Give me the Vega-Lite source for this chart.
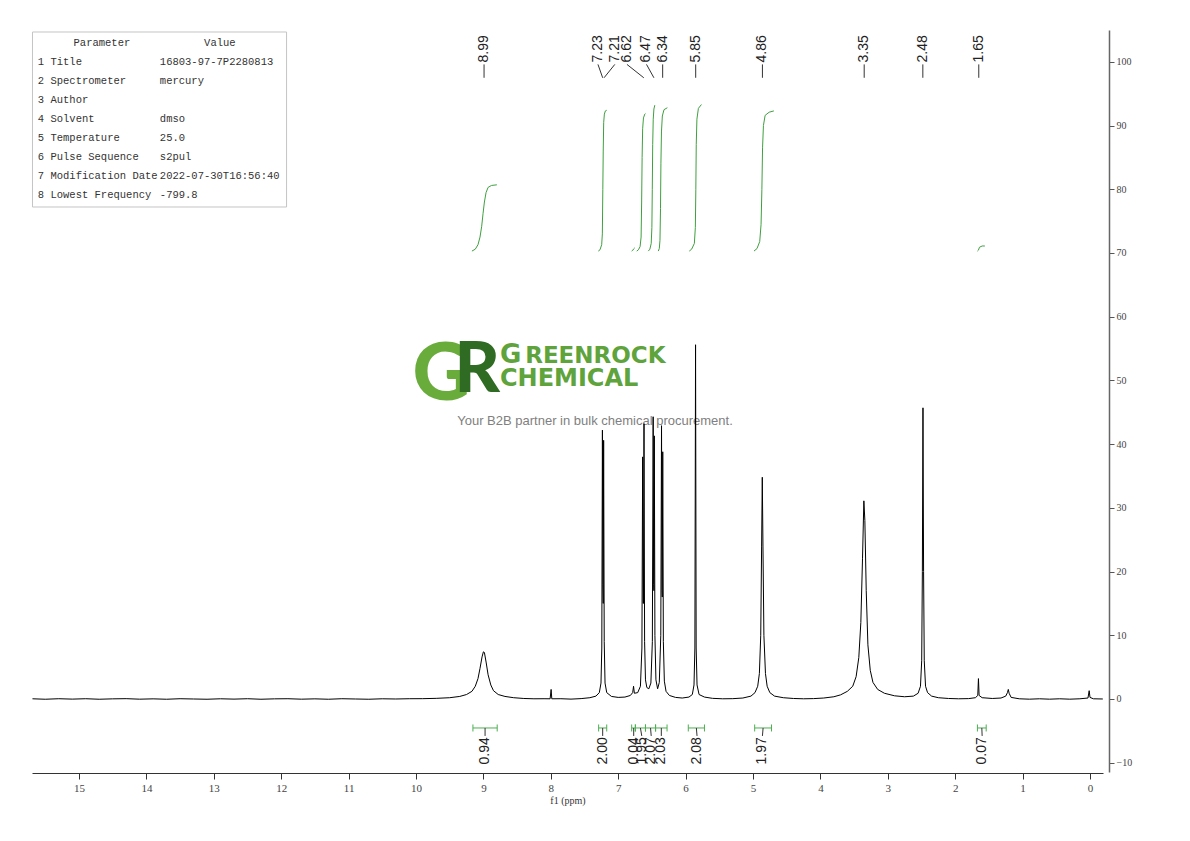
{
  "$schema": "https://vega.github.io/schema/vega-lite/v6.json",
  "width": 1071,
  "height": 742,
  "autosize": {"type": "none"},
  "padding": {"left": 32, "top": 30, "right": 87, "bottom": 69},
  "background": "white",
  "config": {"view": {"stroke": null}, "axis": {"grid": false}},
  "datasets": {
    "spectrum": [
      {"ppm": 15.69, "int": 0.03}, {"ppm": 15.5, "int": -0.04}, {"ppm": 15.3, "int": 0.04}, {"ppm": 15.1, "int": -0.02},
      {"ppm": 14.9, "int": 0.04}, {"ppm": 14.7, "int": -0.04}, {"ppm": 14.5, "int": 0.02}, {"ppm": 14.3, "int": 0.05},
      {"ppm": 14.1, "int": -0.03}, {"ppm": 13.9, "int": 0.02}, {"ppm": 13.7, "int": -0.04}, {"ppm": 13.5, "int": 0.04},
      {"ppm": 13.3, "int": 0.0}, {"ppm": 13.1, "int": -0.04}, {"ppm": 12.9, "int": 0.03}, {"ppm": 12.7, "int": -0.02},
      {"ppm": 12.5, "int": 0.04}, {"ppm": 12.3, "int": -0.04}, {"ppm": 12.1, "int": 0.02}, {"ppm": 11.9, "int": 0.04},
      {"ppm": 11.7, "int": -0.03}, {"ppm": 11.5, "int": 0.02}, {"ppm": 11.3, "int": -0.04}, {"ppm": 11.1, "int": 0.04},
      {"ppm": 10.9, "int": 0.0}, {"ppm": 10.7, "int": -0.04}, {"ppm": 10.5, "int": 0.03}, {"ppm": 10.3, "int": 0.0},
      {"ppm": 10.1, "int": 0.04}, {"ppm": 9.9, "int": 0.05}, {"ppm": 9.7, "int": 0.1}, {"ppm": 9.5, "int": 0.2},
      {"ppm": 9.35, "int": 0.4}, {"ppm": 9.25, "int": 0.7}, {"ppm": 9.17, "int": 1.2}, {"ppm": 9.12, "int": 2.0},
      {"ppm": 9.08, "int": 3.2}, {"ppm": 9.05, "int": 4.8}, {"ppm": 9.02, "int": 6.6}, {"ppm": 9.0, "int": 7.4},
      {"ppm": 8.985, "int": 7.3}, {"ppm": 8.96, "int": 5.8}, {"ppm": 8.93, "int": 3.8}, {"ppm": 8.89, "int": 2.2},
      {"ppm": 8.85, "int": 1.3}, {"ppm": 8.78, "int": 0.7}, {"ppm": 8.68, "int": 0.4}, {"ppm": 8.55, "int": 0.2},
      {"ppm": 8.4, "int": 0.08}, {"ppm": 8.25, "int": 0.03}, {"ppm": 8.1, "int": 0.04}, {"ppm": 8.01, "int": 0.03},
      {"ppm": 7.995, "int": 1.5}, {"ppm": 7.985, "int": 0.03}, {"ppm": 7.85, "int": 0.04}, {"ppm": 7.7, "int": -0.02},
      {"ppm": 7.55, "int": 0.06}, {"ppm": 7.42, "int": 0.2}, {"ppm": 7.33, "int": 0.45}, {"ppm": 7.28, "int": 1.0},
      {"ppm": 7.255, "int": 2.5}, {"ppm": 7.243, "int": 8}, {"ppm": 7.234, "int": 42.2}, {"ppm": 7.227, "int": 18},
      {"ppm": 7.222, "int": 15}, {"ppm": 7.216, "int": 40.6}, {"ppm": 7.207, "int": 9}, {"ppm": 7.195, "int": 2.5},
      {"ppm": 7.17, "int": 1.0}, {"ppm": 7.1, "int": 0.4}, {"ppm": 7.0, "int": 0.25}, {"ppm": 6.9, "int": 0.3},
      {"ppm": 6.82, "int": 0.55}, {"ppm": 6.785, "int": 1.0}, {"ppm": 6.772, "int": 2.0}, {"ppm": 6.76, "int": 0.9},
      {"ppm": 6.71, "int": 1.0}, {"ppm": 6.67, "int": 2.0}, {"ppm": 6.648, "int": 8}, {"ppm": 6.637, "int": 38.0},
      {"ppm": 6.629, "int": 15}, {"ppm": 6.625, "int": 15}, {"ppm": 6.617, "int": 43.2}, {"ppm": 6.608, "int": 9},
      {"ppm": 6.595, "int": 3}, {"ppm": 6.575, "int": 1.8}, {"ppm": 6.545, "int": 1.6}, {"ppm": 6.515, "int": 2.5},
      {"ppm": 6.493, "int": 9}, {"ppm": 6.481, "int": 44.3}, {"ppm": 6.474, "int": 18}, {"ppm": 6.47, "int": 17},
      {"ppm": 6.464, "int": 41.3}, {"ppm": 6.455, "int": 10}, {"ppm": 6.44, "int": 3}, {"ppm": 6.415, "int": 1.6},
      {"ppm": 6.39, "int": 2.6}, {"ppm": 6.368, "int": 10}, {"ppm": 6.357, "int": 42.9}, {"ppm": 6.35, "int": 17},
      {"ppm": 6.346, "int": 16}, {"ppm": 6.339, "int": 38.8}, {"ppm": 6.33, "int": 9}, {"ppm": 6.315, "int": 2.8},
      {"ppm": 6.29, "int": 1.2}, {"ppm": 6.24, "int": 0.55}, {"ppm": 6.15, "int": 0.25}, {"ppm": 6.05, "int": 0.15},
      {"ppm": 5.95, "int": 0.3}, {"ppm": 5.9, "int": 0.7}, {"ppm": 5.875, "int": 2.2}, {"ppm": 5.862, "int": 8},
      {"ppm": 5.852, "int": 55.6}, {"ppm": 5.843, "int": 8}, {"ppm": 5.83, "int": 2.2}, {"ppm": 5.8, "int": 0.7},
      {"ppm": 5.72, "int": 0.3}, {"ppm": 5.6, "int": 0.1}, {"ppm": 5.45, "int": 0.03}, {"ppm": 5.3, "int": 0.05},
      {"ppm": 5.15, "int": 0.15}, {"ppm": 5.03, "int": 0.45}, {"ppm": 4.97, "int": 1.0}, {"ppm": 4.93, "int": 2.0},
      {"ppm": 4.905, "int": 4}, {"ppm": 4.885, "int": 10}, {"ppm": 4.872, "int": 24}, {"ppm": 4.862, "int": 34.8},
      {"ppm": 4.852, "int": 24}, {"ppm": 4.838, "int": 10}, {"ppm": 4.815, "int": 4}, {"ppm": 4.79, "int": 2.0},
      {"ppm": 4.75, "int": 1.0}, {"ppm": 4.68, "int": 0.45}, {"ppm": 4.55, "int": 0.2}, {"ppm": 4.4, "int": 0.08},
      {"ppm": 4.25, "int": 0.03}, {"ppm": 4.1, "int": 0.06}, {"ppm": 3.95, "int": 0.15}, {"ppm": 3.8, "int": 0.35},
      {"ppm": 3.7, "int": 0.65}, {"ppm": 3.6, "int": 1.2}, {"ppm": 3.52, "int": 2.0}, {"ppm": 3.47, "int": 3.5},
      {"ppm": 3.43, "int": 6.5}, {"ppm": 3.4, "int": 12}, {"ppm": 3.375, "int": 22}, {"ppm": 3.355, "int": 31.1},
      {"ppm": 3.34, "int": 28}, {"ppm": 3.32, "int": 17}, {"ppm": 3.295, "int": 8.5}, {"ppm": 3.26, "int": 4.5},
      {"ppm": 3.22, "int": 2.6}, {"ppm": 3.15, "int": 1.5}, {"ppm": 3.05, "int": 0.9}, {"ppm": 2.9, "int": 0.5},
      {"ppm": 2.75, "int": 0.35}, {"ppm": 2.62, "int": 0.45}, {"ppm": 2.55, "int": 0.9}, {"ppm": 2.515, "int": 2},
      {"ppm": 2.497, "int": 6}, {"ppm": 2.487, "int": 20}, {"ppm": 2.478, "int": 45.7}, {"ppm": 2.469, "int": 20},
      {"ppm": 2.459, "int": 6}, {"ppm": 2.44, "int": 2}, {"ppm": 2.41, "int": 1.0}, {"ppm": 2.35, "int": 0.45},
      {"ppm": 2.25, "int": 0.2}, {"ppm": 2.1, "int": 0.08}, {"ppm": 1.95, "int": 0.03}, {"ppm": 1.8, "int": 0.06},
      {"ppm": 1.7, "int": 0.2}, {"ppm": 1.665, "int": 0.55}, {"ppm": 1.655, "int": 3.2}, {"ppm": 1.645, "int": 0.55},
      {"ppm": 1.6, "int": 0.2}, {"ppm": 1.45, "int": 0.08}, {"ppm": 1.32, "int": 0.15}, {"ppm": 1.25, "int": 0.45},
      {"ppm": 1.225, "int": 1.0}, {"ppm": 1.212, "int": 1.5}, {"ppm": 1.2, "int": 0.9}, {"ppm": 1.17, "int": 0.25},
      {"ppm": 1.05, "int": 0.03}, {"ppm": 0.9, "int": -0.03}, {"ppm": 0.75, "int": 0.03}, {"ppm": 0.6, "int": -0.03},
      {"ppm": 0.45, "int": 0.03}, {"ppm": 0.3, "int": -0.03}, {"ppm": 0.15, "int": 0.03}, {"ppm": 0.03, "int": 0.15},
      {"ppm": 0.012, "int": 1.3}, {"ppm": 0.0, "int": 0.25}, {"ppm": -0.05, "int": 0.03}, {"ppm": -0.19, "int": 0.0}
    ],
    "integralCurves": [
      {"peak": "a", "ppm": 9.17, "int": 70.3}, {"peak": "a", "ppm": 9.12, "int": 70.6}, {"peak": "a", "ppm": 9.08, "int": 71.3},
      {"peak": "a", "ppm": 9.05, "int": 72.5}, {"peak": "a", "ppm": 9.025, "int": 74.2}, {"peak": "a", "ppm": 9.005, "int": 76.2},
      {"peak": "a", "ppm": 8.985, "int": 78.0}, {"peak": "a", "ppm": 8.96, "int": 79.5}, {"peak": "a", "ppm": 8.93, "int": 80.3},
      {"peak": "a", "ppm": 8.88, "int": 80.6}, {"peak": "a", "ppm": 8.8, "int": 80.7},
      {"peak": "b", "ppm": 7.295, "int": 70.3}, {"peak": "b", "ppm": 7.27, "int": 70.5}, {"peak": "b", "ppm": 7.245, "int": 71.3},
      {"peak": "b", "ppm": 7.235, "int": 73}, {"peak": "b", "ppm": 7.228, "int": 80}, {"peak": "b", "ppm": 7.222, "int": 86},
      {"peak": "b", "ppm": 7.215, "int": 90.5}, {"peak": "b", "ppm": 7.205, "int": 91.8}, {"peak": "b", "ppm": 7.19, "int": 92.3},
      {"peak": "b", "ppm": 7.17, "int": 92.4},
      {"peak": "c", "ppm": 6.8, "int": 70.3}, {"peak": "c", "ppm": 6.785, "int": 70.4}, {"peak": "c", "ppm": 6.77, "int": 70.65},
      {"peak": "c", "ppm": 6.755, "int": 70.8},
      {"peak": "d", "ppm": 6.725, "int": 70.3}, {"peak": "d", "ppm": 6.7, "int": 70.5}, {"peak": "d", "ppm": 6.675, "int": 71.0},
      {"peak": "d", "ppm": 6.66, "int": 72.5}, {"peak": "d", "ppm": 6.652, "int": 78}, {"peak": "d", "ppm": 6.645, "int": 85},
      {"peak": "d", "ppm": 6.637, "int": 89.5}, {"peak": "d", "ppm": 6.625, "int": 91.2}, {"peak": "d", "ppm": 6.605, "int": 91.8},
      {"peak": "d", "ppm": 6.595, "int": 91.9},
      {"peak": "e", "ppm": 6.553, "int": 70.3}, {"peak": "e", "ppm": 6.53, "int": 70.6}, {"peak": "e", "ppm": 6.51, "int": 71.5},
      {"peak": "e", "ppm": 6.5, "int": 74}, {"peak": "e", "ppm": 6.494, "int": 80}, {"peak": "e", "ppm": 6.488, "int": 87},
      {"peak": "e", "ppm": 6.48, "int": 91}, {"peak": "e", "ppm": 6.47, "int": 92.6}, {"peak": "e", "ppm": 6.457, "int": 93.2},
      {"peak": "f", "ppm": 6.405, "int": 70.3}, {"peak": "f", "ppm": 6.39, "int": 70.7}, {"peak": "f", "ppm": 6.38, "int": 72},
      {"peak": "f", "ppm": 6.372, "int": 77}, {"peak": "f", "ppm": 6.366, "int": 84}, {"peak": "f", "ppm": 6.358, "int": 89},
      {"peak": "f", "ppm": 6.345, "int": 91.5}, {"peak": "f", "ppm": 6.32, "int": 92.5}, {"peak": "f", "ppm": 6.27, "int": 92.8},
      {"peak": "g", "ppm": 5.945, "int": 70.3}, {"peak": "g", "ppm": 5.91, "int": 70.6}, {"peak": "g", "ppm": 5.87, "int": 71.5},
      {"peak": "g", "ppm": 5.855, "int": 74}, {"peak": "g", "ppm": 5.848, "int": 80}, {"peak": "g", "ppm": 5.842, "int": 87},
      {"peak": "g", "ppm": 5.832, "int": 91}, {"peak": "g", "ppm": 5.81, "int": 92.7}, {"peak": "g", "ppm": 5.765, "int": 93.3},
      {"peak": "h", "ppm": 4.985, "int": 70.3}, {"peak": "h", "ppm": 4.94, "int": 70.7}, {"peak": "h", "ppm": 4.9, "int": 71.8},
      {"peak": "h", "ppm": 4.88, "int": 74.5}, {"peak": "h", "ppm": 4.868, "int": 80}, {"peak": "h", "ppm": 4.858, "int": 86.5},
      {"peak": "h", "ppm": 4.845, "int": 90}, {"peak": "h", "ppm": 4.82, "int": 91.6}, {"peak": "h", "ppm": 4.76, "int": 92.1},
      {"peak": "h", "ppm": 4.69, "int": 92.3},
      {"peak": "i", "ppm": 1.67, "int": 70.3}, {"peak": "i", "ppm": 1.655, "int": 70.45}, {"peak": "i", "ppm": 1.64, "int": 70.9},
      {"peak": "i", "ppm": 1.6, "int": 71.1}, {"peak": "i", "ppm": 1.56, "int": 71.1}
    ],
    "peaks": [
      {"ppm": 8.99, "pos": 8.99, "label": "8.99"},
      {"ppm": 7.23, "pos": 7.3, "label": "7.23"},
      {"ppm": 7.21, "pos": 7.05, "label": "7.21"},
      {"ppm": 6.62, "pos": 6.87, "label": "6.62"},
      {"ppm": 6.47, "pos": 6.58, "label": "6.47"},
      {"ppm": 6.34, "pos": 6.34, "label": "6.34"},
      {"ppm": 5.85, "pos": 5.85, "label": "5.85"},
      {"ppm": 4.86, "pos": 4.86, "label": "4.86"},
      {"ppm": 3.35, "pos": 3.35, "label": "3.35"},
      {"ppm": 2.48, "pos": 2.48, "label": "2.48"},
      {"ppm": 1.65, "pos": 1.65, "label": "1.65"}
    ],
    "ranges": [
      {"from": 9.155, "to": 8.795, "center": 8.975, "pos": 8.975, "label": "0.94"},
      {"from": 7.29, "to": 7.17, "center": 7.23, "pos": 7.23, "label": "2.00"},
      {"from": 6.8, "to": 6.745, "center": 6.77, "pos": 6.77, "label": "0.04"},
      {"from": 6.745, "to": 6.595, "center": 6.67, "pos": 6.65, "label": "1.95"},
      {"from": 6.595, "to": 6.445, "center": 6.52, "pos": 6.51, "label": "2.07"},
      {"from": 6.445, "to": 6.275, "center": 6.36, "pos": 6.36, "label": "2.03"},
      {"from": 5.96, "to": 5.72, "center": 5.84, "pos": 5.83, "label": "2.08"},
      {"from": 4.975, "to": 4.725, "center": 4.85, "pos": 4.86, "label": "1.97"},
      {"from": 1.67, "to": 1.54, "center": 1.605, "pos": 1.6, "label": "0.07"}
    ],
    "params": [
      {"row": 1, "name": "1 Title", "value": "16803-97-7P2280813"},
      {"row": 2, "name": "2 Spectrometer", "value": "mercury"},
      {"row": 3, "name": "3 Author", "value": ""},
      {"row": 4, "name": "4 Solvent", "value": "dmso"},
      {"row": 5, "name": "5 Temperature", "value": "25.0"},
      {"row": 6, "name": "6 Pulse Sequence", "value": "s2pul"},
      {"row": 7, "name": "7 Modification Date", "value": "2022-07-30T16:56:40"},
      {"row": 8, "name": "8 Lowest Frequency", "value": "-799.8"}
    ],
    "header": [{"row": 0, "name": "Parameter", "value": "Value"}],
    "brand": [{"g": "G", "r": "R", "g2": "G", "rest": "REENROCK", "line2": "CHEMICAL", "tag": "Your B2B partner in bulk chemical procurement."}]
  },
  "layer": [
    {
      "layer": [
        {
          "data": {"name": "spectrum"},
          "mark": {"type": "line", "color": "#000000", "strokeWidth": 1, "opacity": 0},
          "encoding": {
            "x": {
              "field": "ppm",
              "type": "quantitative",
              "scale": {"domain": [-0.193, 15.697], "reverse": true, "nice": false, "zero": false},
              "axis": {
                "values": [0, 0.5, 1, 1.5, 2, 2.5, 3, 3.5, 4, 4.5, 5, 5.5, 6, 6.5, 7, 7.5, 8, 8.5, 9, 9.5, 10, 10.5, 11, 11.5, 12, 12.5, 13, 13.5, 14, 14.5, 15, 15.5],
                "format": ".0f",
                "labelExpr": "datum.value % 1 === 0 ? datum.label : ''",
                "title": "f1 (ppm)",
                "titleFont": "Liberation Serif",
                "titleFontSize": 10,
                "titleFontWeight": "normal",
                "titleColor": "#333333",
                "titlePadding": 2,
                "labelFont": "Liberation Serif",
                "labelFontSize": 11,
                "labelColor": "#444444",
                "labelPadding": 3,
                "labelFlush": false,
                "labelOverlap": false,
                "tickSize": 6,
                "tickColor": "#333333",
                "domainColor": "#333333",
                "offset": 1,
                "encode": {"ticks": {"update": {"y2": {"signal": "datum.value % 1 === 0 ? 6 : 3"}}}}
              }
            },
            "y": {
              "field": "int",
              "type": "quantitative",
              "scale": {"domain": [-11.46, 105], "nice": false, "zero": false},
              "axis": {
                "orient": "right",
                "values": [-10, -5, 0, 5, 10, 15, 20, 25, 30, 35, 40, 45, 50, 55, 60, 65, 70, 75, 80, 85, 90, 95, 100],
                "labelExpr": "datum.value % 10 === 0 ? datum.label : ''",
                "title": null,
                "labelFont": "Liberation Serif",
                "labelFontSize": 10,
                "labelColor": "#444444",
                "labelPadding": 2,
                "labelFlush": false,
                "labelOverlap": false,
                "tickSize": 5,
                "tickColor": "#555555",
                "domainColor": "#666666",
                "domainWidth": 1.5,
                "offset": 6,
                "encode": {"ticks": {"update": {"x2": {"signal": "datum.value % 10 === 0 ? 5 : 3"}}}}
              }
            }
          }
        },
        {
          "data": {"name": "brand"},
          "mark": {"type": "text", "font": "Lato", "fontWeight": 900, "fontSize": 80, "color": "#62a832", "align": "center", "baseline": "alphabetic", "opacity": 0.95},
          "encoding": {
            "x": {"datum": 9.62},
            "y": {"datum": 46.9},
            "text": {"field": "g"}
          }
        },
        {
          "data": {"name": "brand"},
          "mark": {"type": "text", "font": "Lato", "fontWeight": 900, "fontSize": 70, "color": "#2f6b22", "align": "center", "baseline": "alphabetic"},
          "encoding": {
            "x": {"datum": 9.09},
            "y": {"datum": 48.2},
            "text": {"field": "r"}
          }
        },
        {
          "data": {"name": "brand"},
          "mark": {"type": "text", "font": "DejaVu Sans", "fontWeight": "bold", "fontSize": 26, "color": "#5ea33b", "align": "left", "baseline": "alphabetic"},
          "encoding": {
            "x": {"datum": 8.754},
            "y": {"datum": 52.73},
            "text": {"field": "g2"}
          }
        },
        {
          "data": {"name": "brand"},
          "mark": {"type": "text", "font": "DejaVu Sans", "fontWeight": "bold", "fontSize": 23, "color": "#5ea33b", "align": "left", "baseline": "alphabetic"},
          "encoding": {
            "x": {"datum": 8.38},
            "y": {"datum": 52.73},
            "text": {"field": "rest"}
          }
        },
        {
          "data": {"name": "brand"},
          "mark": {"type": "text", "font": "DejaVu Sans", "fontWeight": "bold", "fontSize": 24, "color": "#5ea33b", "align": "left", "baseline": "alphabetic"},
          "encoding": {
            "x": {"datum": 8.754},
            "y": {"datum": 49.2},
            "text": {"field": "line2"}
          }
        },
        {
          "data": {"name": "brand"},
          "mark": {"type": "text", "font": "Liberation Sans", "fontSize": 13, "color": "#808080", "align": "center", "baseline": "middle"},
          "encoding": {
            "x": {"datum": 7.344},
            "y": {"datum": 43.63},
            "text": {"field": "tag"}
          }
        },
        {
          "data": {"name": "spectrum"},
          "mark": {"type": "line", "color": "#000000", "strokeWidth": 1},
          "encoding": {
            "x": {"field": "ppm", "type": "quantitative"},
            "y": {"field": "int", "type": "quantitative"}
          }
        },
        {
          "data": {"name": "integralCurves"},
          "mark": {"type": "line", "color": "#3f9f3f", "strokeWidth": 1},
          "encoding": {
            "x": {"field": "ppm", "type": "quantitative"},
            "y": {"field": "int", "type": "quantitative"},
            "detail": {"field": "peak"}
          }
        },
        {
          "data": {"name": "peaks"},
          "mark": {"type": "rule", "color": "#333333", "strokeWidth": 1},
          "encoding": {
            "x": {"field": "pos", "type": "quantitative"},
            "x2": {"field": "ppm"},
            "y": {"datum": 99.6},
            "y2": {"datum": 97.5}
          }
        },
        {
          "data": {"name": "peaks"},
          "mark": {"type": "text", "angle": 270, "align": "left", "baseline": "middle", "font": "Liberation Sans", "fontSize": 14, "color": "#222222"},
          "encoding": {
            "x": {"field": "pos", "type": "quantitative"},
            "y": {"datum": 99.9},
            "text": {"field": "label"}
          }
        },
        {
          "data": {"name": "ranges"},
          "mark": {"type": "rule", "color": "#4caf50", "strokeWidth": 1},
          "encoding": {
            "x": {"field": "from", "type": "quantitative"},
            "x2": {"field": "to"},
            "y": {"datum": -4.55}
          }
        },
        {
          "data": {"name": "ranges"},
          "transform": [{"fold": ["from", "to"], "as": ["end", "edge"]}],
          "mark": {"type": "rule", "color": "#4caf50", "strokeWidth": 1},
          "encoding": {
            "x": {"field": "edge", "type": "quantitative"},
            "y": {"datum": -4.0},
            "y2": {"datum": -5.1}
          }
        },
        {
          "data": {"name": "ranges"},
          "mark": {"type": "rule", "color": "#333333", "strokeWidth": 1},
          "encoding": {
            "x": {"field": "center", "type": "quantitative"},
            "x2": {"field": "pos"},
            "y": {"datum": -4.55},
            "y2": {"datum": -5.8}
          }
        },
        {
          "data": {"name": "ranges"},
          "mark": {"type": "text", "angle": 270, "align": "right", "baseline": "middle", "font": "Liberation Sans", "fontSize": 14, "color": "#222222"},
          "encoding": {
            "x": {"field": "pos", "type": "quantitative"},
            "y": {"datum": -6.0},
            "text": {"field": "label"}
          }
        }
      ]
    },
    {
      "layer": [
        {
          "data": {"name": "header"},
          "mark": {"type": "rect", "fill": "white", "stroke": "#c4c4c4", "strokeWidth": 1},
          "encoding": {
            "x": {"datum": 15.69},
            "x2": {"datum": 11.92},
            "y": {"datum": -0.579, "axis": null, "scale": {"domain": [-0.684, 38.37], "reverse": true, "nice": false, "zero": false}},
            "y2": {"datum": 8.632}
          }
        },
        {
          "data": {"name": "header"},
          "mark": {"type": "text", "font": "Liberation Mono", "fontSize": 10.5, "color": "#333333", "align": "center", "baseline": "middle"},
          "encoding": {
            "x": {"datum": 14.66},
            "y": {"field": "row", "type": "quantitative", "axis": null},
            "text": {"field": "name"}
          }
        },
        {
          "data": {"name": "header"},
          "mark": {"type": "text", "font": "Liberation Mono", "fontSize": 10.5, "color": "#333333", "align": "center", "baseline": "middle"},
          "encoding": {
            "x": {"datum": 12.91},
            "y": {"field": "row", "type": "quantitative", "axis": null},
            "text": {"field": "value"}
          }
        },
        {
          "data": {"name": "params"},
          "mark": {"type": "text", "font": "Liberation Mono", "fontSize": 10.5, "color": "#333333", "align": "left", "baseline": "middle"},
          "encoding": {
            "x": {"datum": 15.61},
            "y": {"field": "row", "type": "quantitative", "axis": null},
            "text": {"field": "name"}
          }
        },
        {
          "data": {"name": "params"},
          "mark": {"type": "text", "font": "Liberation Mono", "fontSize": 10.5, "color": "#333333", "align": "left", "baseline": "middle"},
          "encoding": {
            "x": {"datum": 13.8},
            "y": {"field": "row", "type": "quantitative", "axis": null},
            "text": {"field": "value"}
          }
        }
      ]
    }
  ],
  "resolve": {"scale": {"y": "independent"}}
}
